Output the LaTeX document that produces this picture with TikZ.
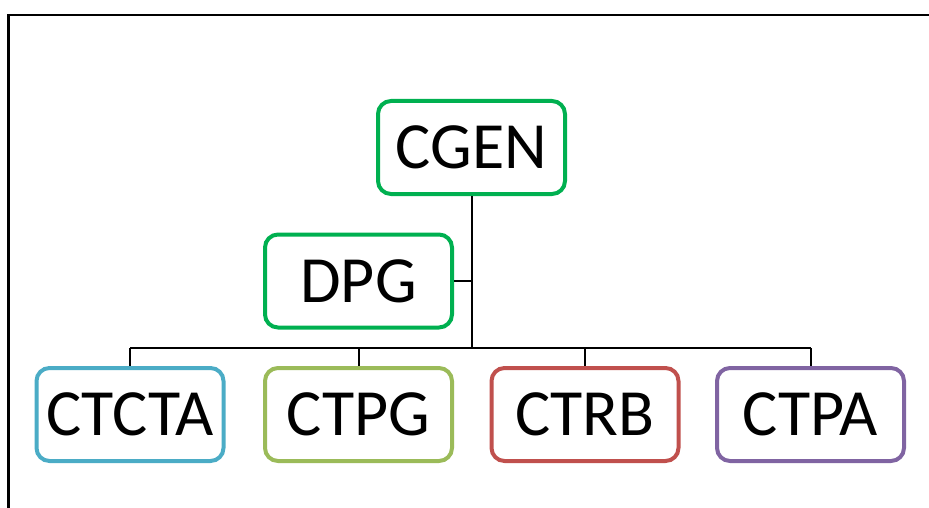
\documentclass[tikz,border=0pt]{standalone}
\usepackage{fontspec}
\setmainfont{Carlito}
\definecolor{cgreen}{HTML}{00B050}
\definecolor{cblue}{HTML}{4BACC6}
\definecolor{colive}{HTML}{9BBB59}
\definecolor{cred}{HTML}{C0504D}
\definecolor{cpurple}{HTML}{8064A2}
\tikzset{
  orgbox/.style={draw=#1, line width=4pt, rounded corners=13pt, fill=white,
    minimum width=187pt, minimum height=93pt, inner sep=0pt,
    font=\fontsize{66}{66}\selectfont},
  conn/.style={line width=2pt, black},
  frameline/.style={line width=2.5pt, black}
}
\begin{document}
\begin{tikzpicture}[x=1pt,y=-1pt]
\useasboundingbox (0,0) rectangle (929,508);
\coordinate (f1) at (8.5,508);
\coordinate (f2) at (8.5,15);
\coordinate (f3) at (929,15);
\draw[frameline] (f1) -- (f2) -- (f3);

\node[orgbox=cgreen] (cgen) at (471.5,147.5) {CGEN};
\node[orgbox=cgreen] (dpg) at (358.5,281) {DPG};
\node[orgbox=cblue] (ctcta) at (130,414.5) {CTCTA};
\node[orgbox=colive] (ctpg) at (358.5,414.5) {CTPG};
\node[orgbox=cred] (ctrb) at (585,414.5) {CTRB};
\node[orgbox=cpurple] (ctpa) at (810.5,414.5) {CTPA};

\coordinate (busc) at (cgen.south |- 0,348);
\coordinate (dj) at (cgen.south |- dpg.east);
\coordinate (b1) at (ctcta.north |- busc);
\coordinate (b2) at (ctpg.north |- busc);
\coordinate (b3) at (ctrb.north |- busc);
\coordinate (b4) at (ctpa.north |- busc);

\draw[conn] (cgen.south) -- (busc);
\draw[conn] (dpg.east) -- (dj);
\draw[conn] (b1) -- (b4);
\draw[conn] (b1) -- (ctcta.north);
\draw[conn] (b2) -- (ctpg.north);
\draw[conn] (b3) -- (ctrb.north);
\draw[conn] (b4) -- (ctpa.north);
\end{tikzpicture}
\end{document}
